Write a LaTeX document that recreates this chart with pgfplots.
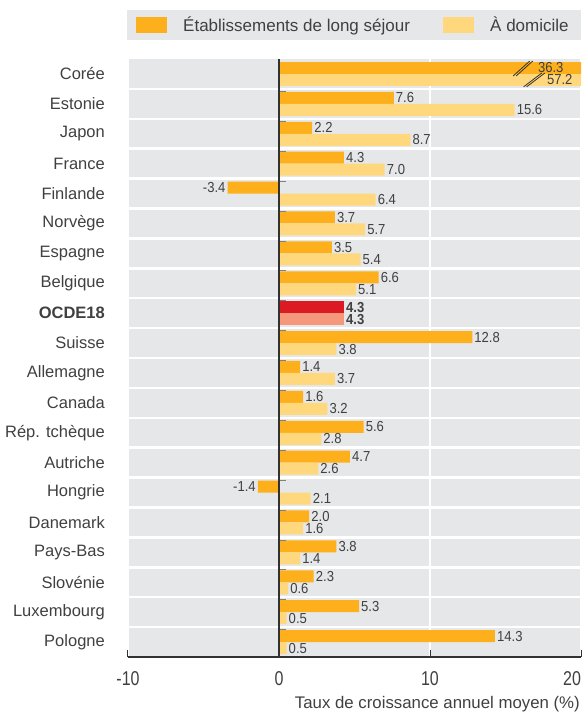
\documentclass[border=0pt]{standalone}
\usepackage{pgfplots}
\pgfplotsset{compat=1.18}
\usepackage{pgfplotstable}
\usepackage{fontspec}
\setmainfont{Liberation Sans}
\newfontfamily\condfont{Liberation Sans}[FakeStretch=0.8]
\newfontfamily\datafont{Liberation Sans}[FakeStretch=0.9]
\definecolor{lsorange}{RGB}{253,176,27}
\definecolor{lslight}{RGB}{255,216,125}
\definecolor{oecdred}{RGB}{219,26,36}
\definecolor{oecdsalmon}{RGB}{244,151,122}
\definecolor{bggray}{RGB}{230,231,233}
\definecolor{textgray}{RGB}{64,64,64}
\definecolor{zerogray}{RGB}{50,50,50}

\pgfplotstableread{
y lt dom
1 7.6 15.6
2 2.2 8.7
3 4.3 7.0
4 -3.4 6.4
5 3.7 5.7
6 3.5 5.4
7 6.6 5.1
9 12.8 3.8
10 1.4 3.7
11 1.6 3.2
12 5.6 2.8
13 4.7 2.6
14 -1.4 2.1
15 2.0 1.6
16 3.8 1.4
17 2.3 0.6
18 5.3 0.5
19 14.3 0.5
}\datamain
\pgfplotstableread{
y lt dom
8 4.3 4.3
}\dataoecd
\pgfplotstableread{
y lt dom
0 36.3 57.2
}\datakor

\begin{document}
\begin{tikzpicture}
\begin{axis}[
  at={(0,0)}, anchor=south west,
  scale only axis, width=453pt, height=598pt,
  xmin=-10, xmax=20, ymin=-0.5, ymax=19.5, y dir=reverse,
  xtick={-10,0,10,20}, xticklabels={-10,0,10,\llap{20}},
  ytick={0,...,19},
  yticklabels={Corée,Estonie,Japon,France,Finlande,Norvège,Espagne,Belgique,\textbf{OCDE18},Suisse,Allemagne,Canada,Rép. tchèque,Autriche,Hongrie,Danemark,Pays-Bas,Slovénie,Luxembourg,Pologne},
  minor ytick={0.5,1.5,...,18.5},
  xmajorgrids, yminorgrids,
  major grid style={white, line width=2pt},
  minor grid style={white, line width=2.5pt},
  axis background/.style={fill=bggray},
  axis line style={draw=none},
  ytick style={draw=none},
  minor tick length=0pt,
  xtick pos=left,
  xtick align=inside, major tick length=7pt,
  xtick style={draw=zerogray, line width=1pt},
  tick label style={text=textgray},
  xticklabel style={font=\condfont\fontsize{20}{20}\selectfont, inner sep=0pt, yshift=-14pt},
  yticklabel style={font=\fontsize{16.5}{16.5}\selectfont, inner sep=0pt, xshift=-16pt},
  xlabel={Taux de croissance annuel moyen (\%)},
  xlabel style={at={(axis description cs:1,0)}, anchor=base east, inner sep=0pt, yshift=-51pt, xshift=-1pt, font=\fontsize{16.8}{16.8}\selectfont, text=textgray},
  xbar, bar width=12pt,
  point meta=x,
  nodes near coords={\pgfmathprintnumber[fixed,fixed zerofill,precision=1,assume math mode=true]{\pgfplotspointmeta}},
  every node near coord/.append style={font=\datafont\fontsize{14.5}{14.5}\selectfont, text=textgray, inner xsep=2pt, inner ysep=0pt},
]
\addplot[fill=lsorange, draw=none, bar shift=6pt] table[x=lt, y=y] {\datamain};
\addplot[fill=lslight, draw=none, bar shift=-6pt] table[x=dom, y=y] {\datamain};
\addplot[fill=oecdred, draw=none, bar shift=6pt, every node near coord/.append style={font=\datafont\bfseries\fontsize{14.5}{14.5}\selectfont}] table[x=lt, y=y] {\dataoecd};
\addplot[fill=oecdsalmon, draw=none, bar shift=-6pt, every node near coord/.append style={font=\datafont\bfseries\fontsize{14.5}{14.5}\selectfont}] table[x=dom, y=y] {\dataoecd};
\addplot[fill=lsorange, draw=none, bar shift=6pt, nodes near coords={}] table[x=lt, y=y] {\datakor};
\addplot[fill=lslight, draw=none, bar shift=-6pt, nodes near coords={}] table[x=dom, y=y] {\datakor};
% break marks
\draw[zerogray, line width=0.8pt] (axis cs:15.5,0.07) -- (axis cs:16.6,-0.43);
\draw[zerogray, line width=0.8pt] (axis cs:15.7,0.07) -- (axis cs:16.8,-0.43);
\draw[zerogray, line width=0.8pt] (axis cs:16.2,0.43) -- (axis cs:17.4,-0.03);
\draw[zerogray, line width=0.8pt] (axis cs:16.4,0.43) -- (axis cs:17.6,-0.03);
\node[anchor=east, inner sep=0pt, text=textgray, font=\datafont\fontsize{14.5}{14.5}\selectfont] at (axis cs:18.85,-0.2) {36.3};
\node[anchor=east, inner sep=0pt, text=textgray, font=\datafont\fontsize{14.5}{14.5}\selectfont] at (axis cs:19.45,0.2) {57.2};
% small ticks at zero line
\pgfplotsinvokeforeach{0,...,18}{
  \draw[gray, line width=0.8pt] ([yshift=-2.5pt]axis cs:0,#1+0.5) -- ([yshift=-2.5pt,xshift=7pt]axis cs:0,#1+0.5);
}
% zero line
\draw[zerogray, line width=2pt] (axis cs:0,-0.5) -- (axis cs:0,19.5);
% bottom axis line
\draw[zerogray, line width=1.5pt] (axis cs:-10,19.5) -- (axis cs:20,19.5);
\end{axis}
% legend
\fill[bggray] (-1pt,617pt) rectangle (453pt,647pt);
\fill[lsorange] (8pt,624pt) rectangle (39pt,640pt);
\node[anchor=base west, inner sep=0pt, text=textgray, font=\fontsize{17}{17}\selectfont] at (55pt,625pt) {Établissements de long séjour};
\fill[lslight] (315pt,624pt) rectangle (346pt,640pt);
\node[anchor=base west, inner sep=0pt, text=textgray, font=\fontsize{17}{17}\selectfont] at (362pt,625pt) {À domicile};
\pgfresetboundingbox
\path[use as bounding box] (-128pt,-55pt) rectangle (453pt,657pt);
\end{tikzpicture}
\end{document}
